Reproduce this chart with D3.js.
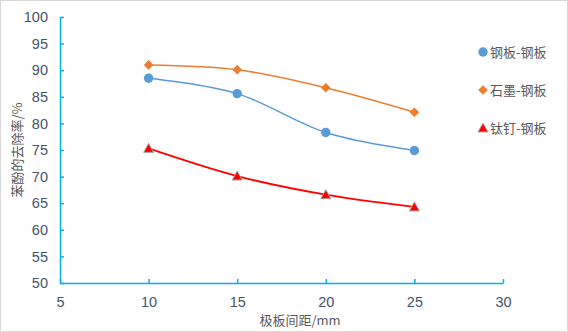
<!DOCTYPE html>
<html><head><meta charset="utf-8">
<script src="https://cdn.jsdelivr.net/npm/d3@7"></script>
<style>body{margin:0;background:#fff}svg{display:block}</style>
</head><body><svg id="c" width="568" height="332"></svg>
<script>
const spacing = [10, 15, 20, 25];
const steelSteel = [88.5, 85.6, 78.3, 74.9];
const graphiteSteel = [91.0, 90.1, 86.7, 82.1];
const titaniumSteel = [75.3, 70.1, 66.6, 64.3];
const seriesNames = ["钢板-钢板", "石墨-钢板", "钛钉-钢板"];
const xTicks = [5, 10, 15, 20, 25, 30];
const yTicks = [50, 55, 60, 65, 70, 75, 80, 85, 90, 95, 100];

const svg = d3.select("#c");
svg.append("rect").attr("x",0.5).attr("y",0.5).attr("width",567).attr("height",331)
  .attr("fill","#fff").attr("stroke","#d9d9d9");

const x = d3.scaleLinear().domain([5,30]).range([60,503]);
const y = d3.scaleLinear().domain([50,100]).range([283,17]);
const axisColor = "#00b0f0";
const font = "'Liberation Sans', Lato, sans-serif";
const cjk = "'Noto Sans CJK SC', sans-serif";

const gx = svg.append("g").attr("transform","translate(0,283)")
  .call(d3.axisBottom(x).tickValues(xTicks).tickSizeInner(-4).tickSizeOuter(0).tickPadding(14));
const gy = svg.append("g").attr("transform","translate(60,0)")
  .call(d3.axisLeft(y).tickValues(yTicks).tickSizeInner(-4).tickSizeOuter(0).tickPadding(12));
[gx,gy].forEach(g=>{
  g.selectAll("path,line").attr("stroke",axisColor).attr("stroke-width",1.5);
  g.selectAll("text").attr("fill","#44546a").style("font-family",font).style("font-size","14.5px");
});

const curve = d3.curveCardinal.tension(0);
const defs = [
  {vals: steelSteel, color:"#5b9bd5", line:"#5b9bd5", w:1.5},
  {vals: graphiteSteel, color:"#ed7d31", line:"#ed7d31", w:1.5},
  {vals: titaniumSteel, color:"#ff0000", line:"#ff0000", w:1.8}
];
defs.forEach(d=>{
  const pts = spacing.map((s,i)=>[x(s), y(d.vals[i])]);
  svg.append("path").attr("d", d3.line().curve(curve)(pts))
    .attr("fill","none").attr("stroke",d.line).attr("stroke-width",d.w);
});
function marker(g, type, cx, cy){
  if(type===0) g.append("circle").attr("cx",cx).attr("cy",cy).attr("r",4.7).attr("fill","#5b9bd5");
  else if(type===1) g.append("path").attr("transform",`translate(${cx},${cy})`)
    .attr("d","M0,-4.8L4.8,0L0,4.8L-4.8,0Z").attr("fill","#ed7d31");
  else g.append("path").attr("transform",`translate(${cx},${cy})`)
    .attr("d","M0,-5L5,4L-5,4Z").attr("fill","#ff0000").attr("stroke","#a6a6a6").attr("stroke-width",1);
}
defs.forEach((d,k)=>{
  spacing.forEach((s,i)=>marker(svg,k,x(s),y(d.vals[i])));
});

// legend
const ly = [52, 90, 128];
seriesNames.forEach((n,k)=>{
  marker(svg,k,483,ly[k]);
  svg.append("text").attr("x",490).attr("y",ly[k]).attr("dy","0.35em")
    .attr("fill","#595959").style("font-family",cjk).style("font-size","13px").text(n);
});

svg.append("text").attr("x",300).attr("y",320).attr("dy","0.35em").attr("text-anchor","middle")
  .attr("fill","#595959").style("font-family",cjk).style("font-size","13px").text("极板间距/mm");
svg.append("text").attr("transform","translate(17,150) rotate(-90)").attr("dy","0.35em")
  .attr("text-anchor","middle").attr("fill","#595959").style("font-family",cjk).style("font-size","13px")
  .text("苯酚的去除率/%");
</script></body></html>
